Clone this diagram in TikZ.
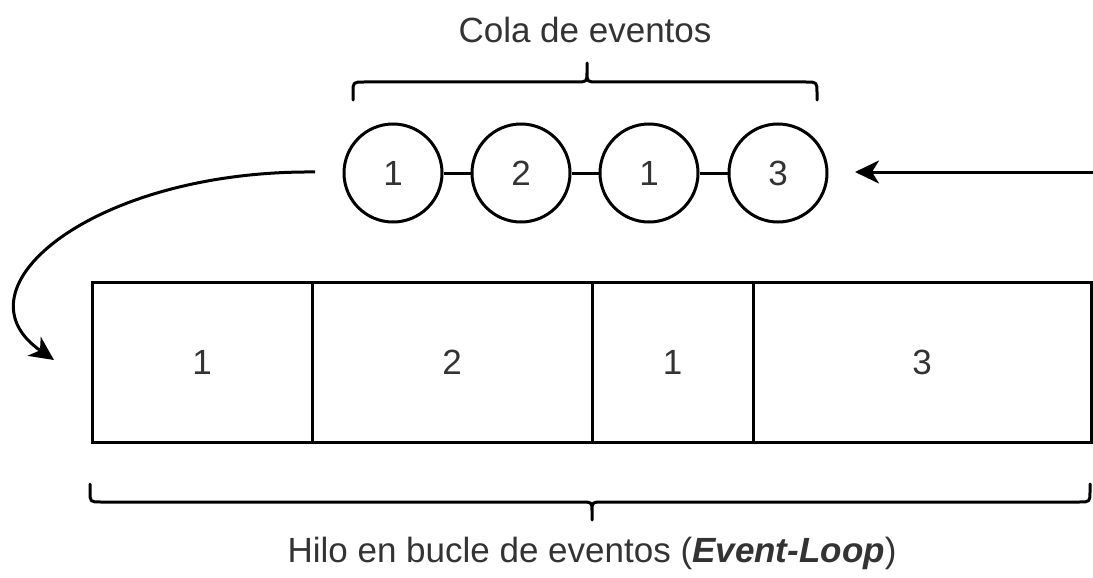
\documentclass[tikz,border=0pt]{standalone}
\usepackage{fontspec}
\setmainfont{Liberation Sans}
\usetikzlibrary{arrows.meta}
\definecolor{txt}{HTML}{333333}
\tikzset{
  lbl/.style={font=\fontsize{35}{42}\selectfont, text=txt, inner sep=0pt},
  ev/.style={circle, draw, line width=3pt, minimum size=98pt, inner sep=0pt, lbl},
  cell/.style={draw, line width=3pt, minimum height=160pt, inner sep=0pt, lbl},
  link/.style={line width=3pt},
  flow/.style={line width=3pt, -{Stealth[length=24pt,width=23pt,inset=7pt]}},
  brace/.style={line width=3pt, line cap=round, line join=round}
}
\begin{document}
\begin{tikzpicture}[x=1pt,y=-1pt]
\useasboundingbox (0,0) rectangle (1093,578);

% event queue
\node[ev] (q1) at (393,173) {1};
\node[ev] (q2) at (521,173) {2};
\node[ev] (q3) at (649,173) {1};
\node[ev] (q4) at (778,173) {3};
\draw[link] (q1) -- (q2);
\draw[link] (q2) -- (q3);
\draw[link] (q3) -- (q4);

% brace over the queue
\draw[brace] (353,100) -- (353,93) .. controls (353,82) .. (364,82) -- (576,82)
  .. controls (587,82) .. (587,72) -- (587,63)
  (587,72) .. controls (587,82) .. (598,82) -- (806,82)
  .. controls (817,82) .. (817,93) -- (817,100);
\node[lbl] (qtitle) at (585,30) {Cola de eventos};

% event loop thread
\node[cell, minimum width=220pt] (c1) at (202,362) {1};
\node[cell, minimum width=280pt] (c2) at (452,362) {2};
\node[cell, minimum width=161pt] (c3) at (672.5,362) {1};
\node[cell, minimum width=338pt] (c4) at (922,362) {3};

% brace under the thread
\draw[brace] (90,484) -- (90,491) .. controls (90,502) .. (101,502) -- (581,502)
  .. controls (592,502) .. (592,511) -- (592,520)
  (592,511) .. controls (592,502) .. (603,502) -- (1079,502)
  .. controls (1090,502) .. (1090,491) -- (1090,484);
\node[lbl] (ttitle) at (592,553) {Hilo en bucle de eventos (\textbf{\textit{Event-Loop}})};

% incoming events and dispatch
\coordinate (inSrc) at (1093,172);
\coordinate (inDst) at (855,172);
\coordinate (outSrc) at (315,172);
\coordinate (outDst) at (54,360);
\draw[flow] (inSrc) -- (inDst);
\draw[flow] (outSrc) .. controls (95,170) and (-50,288) .. (outDst);
\end{tikzpicture}
\end{document}
